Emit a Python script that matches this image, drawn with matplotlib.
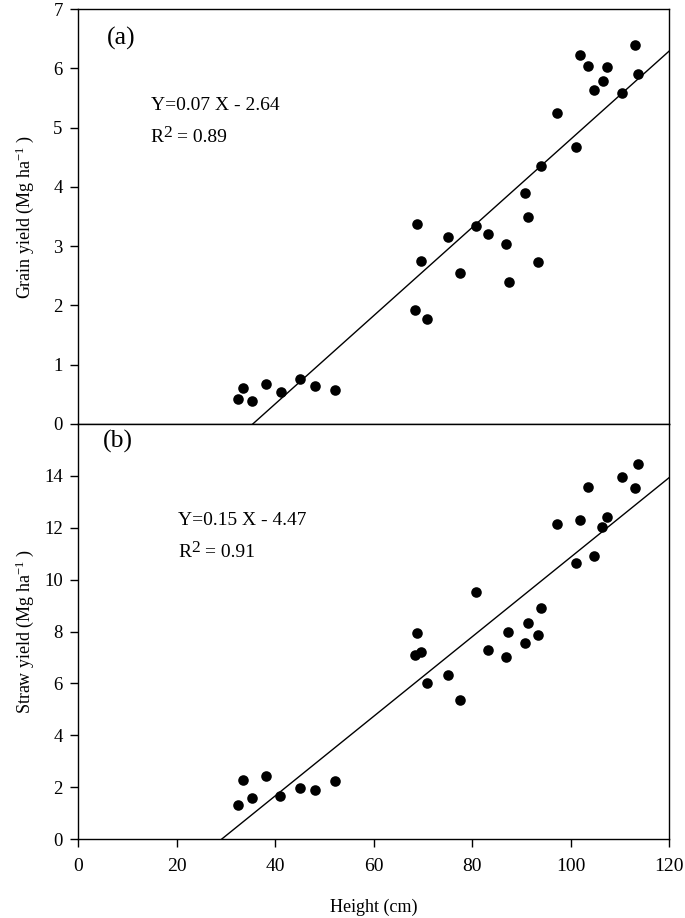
import numpy as np
import matplotlib
matplotlib.use("Agg")
import matplotlib.pyplot as plt

plt.rcParams['font.family'] = ['Liberation Serif', 'DejaVu Serif']
plt.rcParams['mathtext.fontset'] = 'custom'
plt.rcParams['mathtext.rm'] = 'Liberation Serif'
plt.rcParams['mathtext.it'] = 'Liberation Serif:italic'

height = [32.5, 33.5, 35.3, 38.2, 41.2, 45.1, 48.1, 52.2,
          68.8, 69.6, 68.5, 70.9, 75.1, 77.6, 80.8, 83.3, 86.9, 87.5,
          90.7, 91.4, 93.3, 94.0, 97.3, 101.1, 101.9, 103.6, 104.7, 106.5,
          107.5, 110.5, 113.1, 113.7]
grain = [0.42, 0.61, 0.38, 0.68, 0.54, 0.76, 0.64, 0.58,
         3.37, 2.75, 1.93, 1.77, 3.15, 2.54, 3.34, 3.21, 3.03, 2.40,
         3.89, 3.49, 2.73, 4.35, 5.25, 4.68, 6.23, 6.04, 5.64, 5.79,
         6.03, 5.58, 6.40, 5.90]

height_b = [32.5, 33.5, 35.3, 38.2, 41.1, 45.1, 48.1, 52.2,
            68.8, 68.4, 69.6, 70.9, 75.1, 77.6, 80.8, 83.3, 86.9, 87.4,
            90.7, 91.4, 93.3, 94.0, 97.3, 101.1, 101.9, 103.5, 104.7, 106.4,
            107.5, 110.5, 113.1, 113.7]
straw = [1.31, 2.27, 1.58, 2.42, 1.66, 1.95, 1.88, 2.24,
         7.93, 7.08, 7.20, 6.03, 6.32, 5.35, 9.51, 7.30, 7.02, 7.97,
         7.56, 8.34, 7.88, 8.92, 12.13, 10.63, 12.29, 13.57, 10.90, 12.02,
         12.43, 13.94, 13.53, 14.47]

# regression lines (slope, intercept)
fit_a = (0.0744, -2.64)
fit_b = (0.1534, -4.48)

eq_a = ["Y=0.07 X - 2.64", "= 0.89"]
eq_b = ["Y=0.15 X - 4.47", "= 0.91"]

W, H = 685, 918
fig = plt.figure(figsize=(W / 100, H / 100), dpi=100)
L, R = 78 / W, 669 / W
ax1 = fig.add_axes([L, 1 - 424 / H, R - L, (424 - 9) / H])
ax2 = fig.add_axes([L, 1 - 839 / H, R - L, (839 - 424) / H])

xl = np.array([0, 120])


def style(ax):
    for s in ax.spines.values():
        s.set_linewidth(1.0)
    ax.tick_params(axis='y', direction='out', length=6, width=1, labelsize=13.5, pad=5)
    ax.tick_params(axis='x', direction='out', length=6, width=1, labelsize=14, pad=8)


def equation(ax, x, y1, y2, line1, rest):
    ax.text(x, y1, line1, fontsize=14, va='baseline', ha='left')
    ax.text(x, y2, "R", fontsize=14, va='baseline', ha='left')
    ax.annotate("2", (x, y2), xytext=(9.4, 3.6), textcoords='offset points',
                fontsize=12.5, va='baseline', ha='left')
    ax.annotate(rest, (x, y2), xytext=(19.2, 0), textcoords='offset points',
                fontsize=14, va='baseline', ha='left')


# panel (a)
ax1.scatter(height, grain, s=58, color='black', zorder=3, linewidths=0)
ax1.plot(xl, fit_a[0] * xl + fit_a[1], color='black', lw=1.0)
ax1.set_xlim(0, 120)
ax1.set_ylim(0, 7)
ax1.set_yticks(range(0, 8))
ax1.set_xticks([])
ax1.set_ylabel("Grain yield (Mg ha$^{-1}$ )", fontsize=13)
ax1.text(5.9, 6.50, "(a)", fontsize=18.5, va='center', ha='left')
equation(ax1, 14.76, 5.296, 4.761, eq_a[0], eq_a[1])
style(ax1)

# panel (b)
ax2.scatter(height_b, straw, s=58, color='black', zorder=3, linewidths=0)
ax2.plot(xl, fit_b[0] * xl + fit_b[1], color='black', lw=1.0)
ax2.set_xlim(0, 120)
ax2.set_ylim(0, 16)
ax2.set_yticks(range(0, 15, 2))
ax2.set_xticks(range(0, 121, 20))
ax2.set_ylabel("Straw yield (Mg ha$^{-1}$ )", fontsize=13)
ax2.set_xlabel("Height (cm)", fontsize=13)
ax2.text(5.0, 15.33, "(b)", fontsize=18.5, va='center', ha='left')
equation(ax2, 20.37, 12.10, 10.88, eq_b[0], eq_b[1])
style(ax2)

for ax in (ax1, ax2):
    ax.yaxis.set_label_coords(-0.0897, 0.5)
    ax.yaxis.label.set_verticalalignment('center')
ax2.xaxis.set_label_coords(0.5, -(907 - 839) / 415)
ax2.xaxis.label.set_verticalalignment('center')

fig.savefig("out.png", dpi=100)
